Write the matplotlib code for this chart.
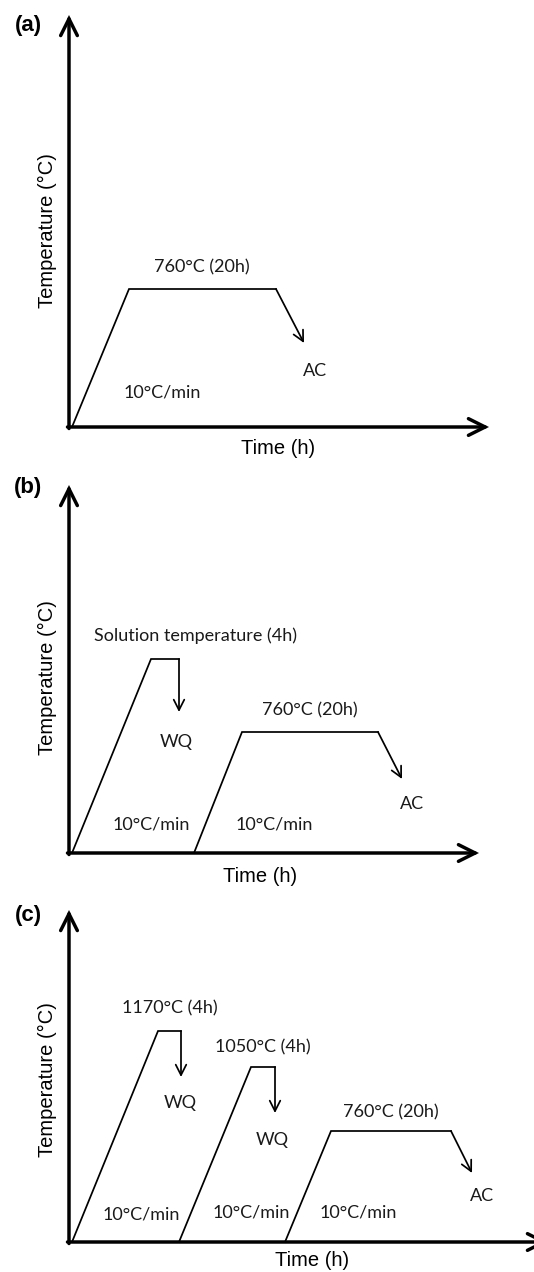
import matplotlib
matplotlib.use("Agg")
import matplotlib.pyplot as plt

# schematic heat-treatment profiles (time, temperature),
# arbitrary units (1 unit ~ 1 px of the reference)
panel_labels = ["(a)", "(b)", "(c)"]

# (a) ageing only
time_a = [3, 60, 207]
temp_a = [0, 138, 138]
cool_a = [(207, 138), (235, 84)]

# (b) solution + ageing
time_b1 = [3, 82, 110]
temp_b1 = [0, 194, 194]
cool_b1 = [(110, 194), (110, 141)]
time_b2 = [125, 173, 309]
temp_b2 = [0, 121, 121]
cool_b2 = [(309, 121), (333, 74)]

# (c) double solution + ageing
time_c1 = [3, 89, 112]
temp_c1 = [0, 211, 211]
cool_c1 = [(112, 211), (112, 165)]
time_c2 = [110, 182, 206]
temp_c2 = [0, 175, 175]
cool_c2 = [(206, 175), (206, 129)]
time_c3 = [216, 262, 382]
temp_c3 = [0, 111, 111]
cool_c3 = [(382, 111), (403, 69)]

# annotations: (text, time, temp)
notes_a = [("760°C (20h)", 133, 160), ("AC", 246, 56), ("10°C/min", 93, 35)]
notes_b = [("Solution temperature (4h)", 126, 217), ("WQ", 107, 111),
           ("760°C (20h)", 241, 143), ("AC", 343, 49),
           ("10°C/min", 82, 29), ("10°C/min", 205, 29)]
notes_c = [("1170°C (4h)", 101, 234), ("WQ", 111, 139),
           ("1050°C (4h)", 194, 195), ("WQ", 203, 102),
           ("760°C (20h)", 322, 130), ("AC", 413, 46),
           ("10°C/min", 72, 27), ("10°C/min", 182, 29), ("10°C/min", 289, 29)]

W, H = 534, 1272
fig = plt.figure(figsize=(W / 100, H / 100), dpi=100)

ANNOT_FONT = "Lato"
AXIS_FONT = "Liberation Sans"
X0 = 69


def make_axes(y_axis, x_tip, y_tip):
    # place an axes in pixel coords of the reference, origin at the axis corner
    ax = fig.add_axes([X0 / W, 1 - y_axis / H, (x_tip - X0) / W, (y_axis - y_tip) / H])
    ax.set_xlim(0, x_tip - X0)
    ax.set_ylim(0, y_axis - y_tip)
    ax.axis("off")
    arrow = dict(arrowstyle="->,head_length=1.2,head_width=0.6", lw=2.5, color="black",
                 shrinkA=0, shrinkB=0, joinstyle="miter")
    ax.annotate("", xy=(0, y_axis - y_tip), xytext=(0, -1.5), arrowprops=arrow,
                annotation_clip=False)
    ax.annotate("", xy=(x_tip - X0, 0), xytext=(-1.5, 0), arrowprops=arrow,
                annotation_clip=False)
    return ax


def draw_profile(ax, t, T, cool):
    ax.plot(t, T, color="black", lw=1.25, solid_joinstyle="miter", clip_on=False)
    ax.annotate("", xy=cool[1], xytext=cool[0],
                arrowprops=dict(arrowstyle="->,head_length=0.75,head_width=0.38",
                                lw=1.25, color="black", shrinkA=0, shrinkB=0),
                annotation_clip=False)


def draw_notes(ax, notes):
    for s, t, T in notes:
        ax.text(t, T, s, ha="center", va="center", fontsize=13,
                family=ANNOT_FONT, color="#1a1a1a")


# y_axis, x_tip, y_tip, profiles, notes, (a)-label y, temp-label y, time-label x, y
panels = [
    (427, 489, 15, [(time_a, temp_a, cool_a)], notes_a, 25, 231, 278, 449),
    (853, 479, 485, [(time_b1, temp_b1, cool_b1), (time_b2, temp_b2, cool_b2)],
     notes_b, 488, 678, 260, 877),
    (1242, 548, 910, [(time_c1, temp_c1, cool_c1), (time_c2, temp_c2, cool_c2),
                      (time_c3, temp_c3, cool_c3)], notes_c, 915, 1080, 312, 1261),
]

for i, (y_axis, x_tip, y_tip, profiles, notes, y_lab, y_temp, x_time, y_time) in enumerate(panels):
    ax = make_axes(y_axis, x_tip, y_tip)
    for t, T, cool in profiles:
        draw_profile(ax, t, T, cool)
    draw_notes(ax, notes)
    fig.text(28 / W, 1 - y_lab / H, panel_labels[i], ha="center", va="center",
             fontsize=16, fontweight="bold", family=AXIS_FONT)
    fig.text(47 / W, 1 - y_temp / H, "Temperature (°C)",
             rotation=90, ha="center", va="center", fontsize=14.5, family=AXIS_FONT)
    fig.text(x_time / W, 1 - y_time / H, "Time (h)", ha="center", va="center",
             fontsize=14.5, family=AXIS_FONT)

fig.savefig("out.png", dpi=100)
